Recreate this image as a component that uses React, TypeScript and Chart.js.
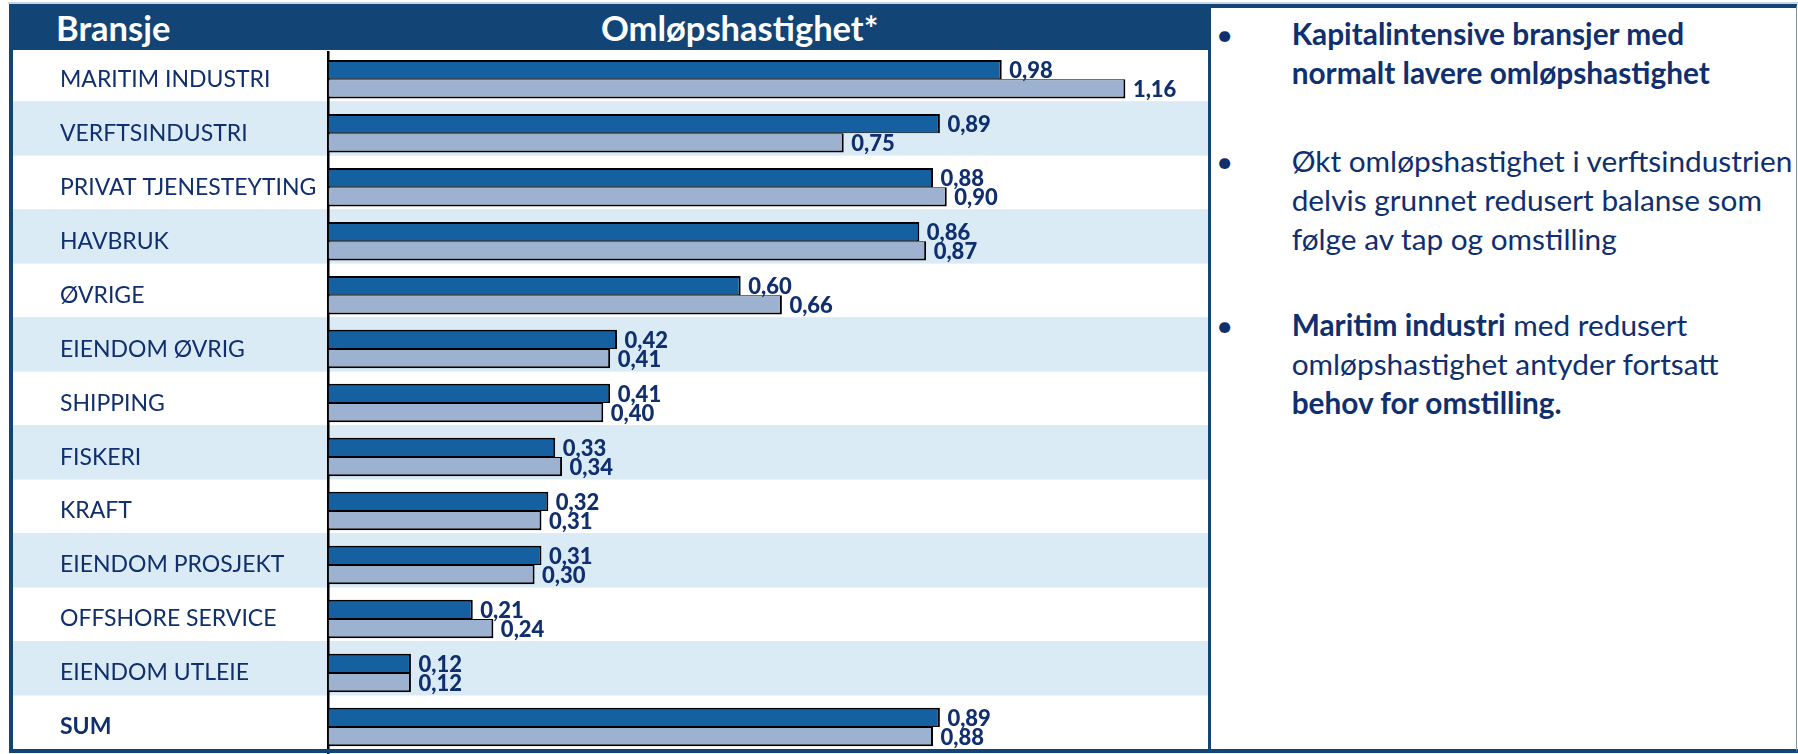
import React, { useEffect, useRef } from 'react';
import { Chart, registerables } from 'chart.js';

Chart.register(...registerables);

// ---- data ----
const categories = [
  'MARITIM INDUSTRI',
  'VERFTSINDUSTRI',
  'PRIVAT TJENESTEYTING',
  'HAVBRUK',
  'ØVRIGE',
  'EIENDOM ØVRIG',
  'SHIPPING',
  'FISKERI',
  'KRAFT',
  'EIENDOM PROSJEKT',
  'OFFSHORE SERVICE',
  'EIENDOM UTLEIE',
  'SUM',
];
const seriesCurrent = [0.98, 0.89, 0.88, 0.86, 0.6, 0.42, 0.41, 0.33, 0.32, 0.31, 0.21, 0.12, 0.89];
const seriesPrevious = [1.16, 0.75, 0.9, 0.87, 0.66, 0.41, 0.4, 0.34, 0.31, 0.3, 0.24, 0.12, 0.88];
const seriesNames = ['Siste år', 'Forrige år'];
const headerLabels = ['Bransje', 'Omløpshastighet*'];

// ---- styles ----
const W = 1798;
const H = 754;
const HEADER_BG = '#124576';
const DARK_BAR = '#1560A1';
const LIGHT_BAR = '#9DB2D0';
const BAND = '#DAEBF6';
const NAVY = '#102F6E';
const FONT = 'Lato, "Open Sans", sans-serif';

const fmt = (v: number) => v.toFixed(2).replace('.', ',');

const bandsPlugin = {
  id: 'bands',
  beforeDraw(chart: any) {
    const { ctx, chartArea } = chart;
    const y = chart.scales.y;
    ctx.save();
    ctx.fillStyle = '#ffffff';
    ctx.fillRect(0, 0, chart.width, chart.height);
    const step = y.getPixelForValue(1) - y.getPixelForValue(0);
    for (let i = 0; i < categories.length; i++) {
      if (i % 2 === 1) {
        const c = y.getPixelForValue(i);
        ctx.fillStyle = BAND;
        ctx.fillRect(13, c - step / 2 - 5, chartArea.right - 13, step + 0.5);
      }
    }
    ctx.restore();
  },
};

const valueLabelPlugin = {
  id: 'valueLabels',
  afterDatasetsDraw(chart: any) {
    const { ctx } = chart;
    ctx.save();
    ctx.font = `900 22px ${FONT}`;
    ctx.fillStyle = NAVY;
    ctx.textAlign = 'left';
    ctx.textBaseline = 'middle';
    chart.data.datasets.forEach((ds: any, di: number) => {
      const meta = chart.getDatasetMeta(di);
      meta.data.forEach((bar: any, i: number) => {
        ctx.fillText(fmt(ds.data[i]), bar.x + 7.5, bar.y + 1.5);
      });
    });
    ctx.restore();
  },
};

function BarChart() {
  const ref = useRef<HTMLCanvasElement | null>(null);
  useEffect(() => {
    if (!ref.current) return;
    const chartLeft = 328.5;
    const chartRight = 1208.5;
    const labelLeft = 60;
    const chart = new Chart(ref.current, {
      type: 'bar',
      data: {
        labels: categories,
        datasets: [
          {
            label: seriesNames[0],
            data: seriesCurrent,
            backgroundColor: DARK_BAR,
            borderColor: '#000000',
            borderWidth: { top: 2, right: 2, bottom: 1, left: 0 },
            categoryPercentage: 0.713,
            barPercentage: 1,
          },
          {
            label: seriesNames[1],
            data: seriesPrevious,
            backgroundColor: LIGHT_BAR,
            borderColor: '#000000',
            borderWidth: { top: 1, right: 2, bottom: 2, left: 0 },
            categoryPercentage: 0.713,
            barPercentage: 1,
          },
        ],
      },
      options: {
        indexAxis: 'y',
        animation: false,
        responsive: false,
        devicePixelRatio: 1,
        layout: {
          padding: { left: labelLeft, top: 52.2, right: W - chartRight, bottom: 0 },
        },
        plugins: {
          legend: { display: false },
          tooltip: { enabled: false },
          title: { display: false },
        },
        scales: {
          x: {
            display: false,
            min: 0,
            max: 1.281,
          },
          y: {
            type: 'category',
            offset: true,
            grid: { display: false },
            border: { display: true, color: '#000000', width: 2.5 },
            ticks: {
              autoSkip: false,
              crossAlign: 'far',
              padding: 0,
              color: NAVY,
              font: (ctx: any) => ({
                family: FONT,
                size: 23,
                weight: ctx.index === categories.length - 1 ? 'bold' : 'normal',
              }),
            },
            afterFit: (scale: any) => {
              scale.width = chartLeft - labelLeft;
              scale.paddingTop = 0;
              scale.paddingBottom = 0;
            },
          },
        },
      },
      plugins: [bandsPlugin, valueLabelPlugin],
    } as any);
    return () => chart.destroy();
  }, []);
  return (
    <canvas
      ref={ref}
      width={W}
      height={H}
      style={{ position: 'absolute', left: 0, top: 0, width: W, height: H }}
    />
  );
}

const textStyle: React.CSSProperties = {
  position: 'absolute',
  fontFamily: FONT,
  fontSize: 29.8,
  lineHeight: '39px',
  color: NAVY,
  whiteSpace: 'nowrap',
};

const headerStyle: React.CSSProperties = {
  position: 'absolute',
  top: 10.8,
  fontFamily: FONT,
  fontWeight: 700,
  fontSize: 34.5,
  lineHeight: '34px',
  color: '#fff',
  whiteSpace: 'nowrap',
};

export default function App() {
  useEffect(() => {
    document.body.style.margin = '0';
  }, []);
  return (
    <div style={{ position: 'fixed', left: 0, top: 0, width: W, height: H, background: '#fff', overflow: 'hidden' }}>
      <BarChart />
      {/* top pale line */}
      <div style={{ position: 'absolute', left: 8, top: 2, width: W - 8, height: 2, background: '#c9d5e4' }} />
      {/* header band */}
      <div style={{ position: 'absolute', left: 9, top: 4, width: 1199, height: 46, background: HEADER_BG }} />
      <div style={{ ...headerStyle, left: 56 }}>{headerLabels[0]}</div>
      <div style={{ ...headerStyle, left: 601 }}>{headerLabels[1]}</div>
      {/* left & bottom frame */}
      <div style={{ position: 'absolute', left: 9, top: 4, width: 4, height: 749, background: HEADER_BG }} />
      <div style={{ position: 'absolute', left: 9, top: 749, width: W - 9, height: 4, background: HEADER_BG }} />
      {/* text panel */}
      <div
        style={{
          position: 'absolute',
          left: 1208,
          top: 4,
          width: 589,
          height: 749,
          boxSizing: 'border-box',
          background: '#fff',
          borderLeft: `3px solid ${HEADER_BG}`,
          borderTop: `4px solid ${HEADER_BG}`,
          borderRight: '1.5px solid #7f95b0',
          borderBottom: `4px solid ${HEADER_BG}`,
        }}
      />
      {/* bullets */}
      <div style={{ ...textStyle, left: 1216, top: 14 }}>•</div>
      <div style={{ ...textStyle, left: 1291.7, top: 14, fontWeight: 700 }}>
        Kapitalintensive bransjer med
        <br />
        normalt lavere omløpshastighet
      </div>
      <div style={{ ...textStyle, left: 1216, top: 140.7 }}>•</div>
      <div style={{ ...textStyle, left: 1291.7, top: 140.7 }}>
        Økt omløpshastighet i verftsindustrien
        <br />
        delvis grunnet redusert balanse som
        <br />
        følge av tap og omstilling
      </div>
      <div style={{ ...textStyle, left: 1216, top: 305 }}>•</div>
      <div style={{ ...textStyle, left: 1291.7, top: 305 }}>
        <b>Maritim industri</b> med redusert
        <br />
        omløpshastighet antyder fortsatt
        <br />
        <b>behov for omstilling.</b>
      </div>
    </div>
  );
}
